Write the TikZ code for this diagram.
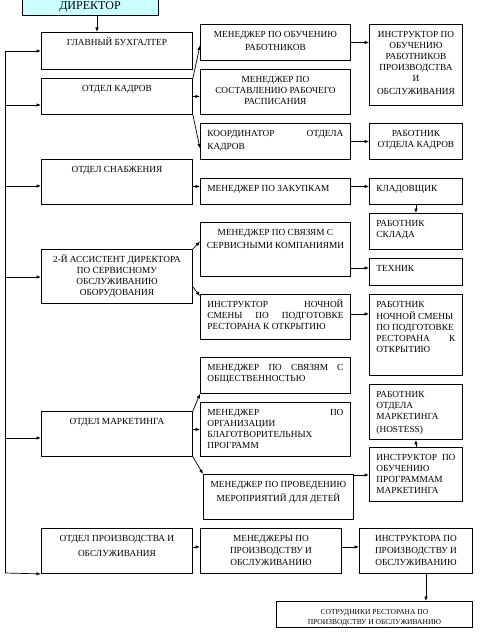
\documentclass[tikz,border=0pt]{standalone}
\usepackage{fontspec}
\setmainfont{Liberation Serif}
\usepackage{tikz}
\usetikzlibrary{arrows.meta,positioning}
\definecolor{dircyan}{RGB}{204,255,255}
\newcommand{\orgfont}{\fontsize{9.3}{11}\selectfont}
% box: optional alignment, name, x, y, width, height, text
\newcommand{\orgbox}[7][\centering]{%
  \node[box] (#2) at (#3,#4)
    {\parbox[t][#6pt][t]{\dimexpr#5pt-14pt\relax}{#1\vspace{5.5pt}\strut#7}};
}
\tikzset{
  box/.style={draw, line width=0.9pt, anchor=north west, inner xsep=7pt, inner ysep=0pt, font=\orgfont},
  arr/.style={-{Latex[length=4.5pt,width=3.5pt]}, line width=0.7pt},
  bus/.style={line width=0.7pt},
}
\begin{document}
\begin{tikzpicture}[x=1pt,y=-1pt]
  \useasboundingbox (0,0) rectangle (481,634);

  \node[box, anchor=center, fill=dircyan, minimum width=136, minimum height=17,
        inner sep=0pt, font=\fontsize{12}{12}\selectfont] (dir) at (90,6.5) {ДИРЕКТОР};

  % left column
  \orgbox{buh}{41}{32}{151}{37}{\vspace{1.5pt}ГЛАВНЫЙ БУХГАЛТЕР}
  \orgbox{kadry}{41}{78}{151}{36}{\vspace{1.5pt}ОТДЕЛ КАДРОВ}
  \orgbox{snab}{41}{159}{151}{45}{\vspace{1pt}ОТДЕЛ СНАБЖЕНИЯ}
  \orgbox{asst}{41}{249}{151}{54}{2-Й АССИСТЕНТ ДИРЕКТОРА\\ ПО СЕРВИСНОМУ\\ ОБСЛУЖИВАНИЮ\\ ОБОРУДОВАНИЯ}
  \orgbox{mark}{41}{411}{151}{45}{\vspace{1pt}ОТДЕЛ МАРКЕТИНГА}
  \orgbox{prod}{41}{528}{151}{45}{ОТДЕЛ ПРОИЗВОДСТВА И\\[4pt] ОБСЛУЖИВАНИЯ}

  % middle column
  \orgbox{obuch}{200}{24}{150}{36}{МЕНЕДЖЕР ПО ОБУЧЕНИЮ\\[2pt] РАБОТНИКОВ}
  \orgbox{rasp}{200}{69}{150}{45}{МЕНЕДЖЕР ПО\\ СОСТАВЛЕНИЮ РАБОЧЕГО\\ РАСПИСАНИЯ}
  \orgbox[\raggedright]{koord}{200}{123}{150}{36}{КООРДИНАТОР\hfill ОТДЕЛА\\[2pt] КАДРОВ}
  \orgbox[\raggedright]{zak}{200}{178}{150}{26}{МЕНЕДЖЕР ПО ЗАКУПКАМ}
  \orgbox{serv}{200}{222}{150}{54}{МЕНЕДЖЕР ПО СВЯЗЯМ С\\[2pt] \makebox[\linewidth]{СЕРВИСНЫМИ КОМПАНИЯМИ}}
  \orgbox[\raggedright]{noch}{200}{294}{150}{45}{ИНСТРУКТОР\hfill НОЧНОЙ\\ СМЕНЫ\hfill ПО\hfill ПОДГОТОВКЕ\\ РЕСТОРАНА К ОТКРЫТИЮ}
  \orgbox[\raggedright]{obsh}{200}{357}{150}{36}{МЕНЕДЖЕР\hfill ПО\hfill СВЯЗЯМ\hfill С\\ ОБЩЕСТВЕННОСТЬЮ}
  \orgbox[\raggedright]{blag}{200}{402}{150}{54}{МЕНЕДЖЕР\hfill ПО\\ ОРГАНИЗАЦИИ\\ БЛАГОТВОРИТЕЛЬНЫХ\\ ПРОГРАММ}
  \orgbox{det}{203}{474}{150}{45}{МЕНЕДЖЕР ПО ПРОВЕДЕНИЮ\\[2pt] МЕРОПРИЯТИЙ ДЛЯ ДЕТЕЙ}
  \orgbox{mp}{200}{528}{141}{45}{МЕНЕДЖЕРЫ ПО\\[1pt] ПРОИЗВОДСТВУ И\\[1pt] ОБСЛУЖИВАНИЮ}

  % right column
  \orgbox{instr}{369}{24}{93}{81}{ИНСТРУКТОР ПО\\ ОБУЧЕНИЮ\\ РАБОТНИКОВ\\ ПРОИЗВОДСТВА\\ И\\[2pt] ОБСЛУЖИВАНИЯ}
  \orgbox{rk}{369}{123}{93}{36}{РАБОТНИК\\ ОТДЕЛА КАДРОВ}
  \orgbox[\raggedright]{klad}{369}{178}{93}{26}{КЛАДОВЩИК}
  \orgbox[\raggedright]{sklad}{369}{213}{93}{36}{РАБОТНИК\\ СКЛАДА}
  \orgbox[\raggedright]{tech}{369}{258}{93}{27}{ТЕХНИК}
  \orgbox[\raggedright]{rn}{369}{294}{93}{81}{РАБОТНИК\\ НОЧНОЙ СМЕНЫ\\ ПО ПОДГОТОВКЕ\\ РЕСТОРАНА\hfill К\\ ОТКРЫТИЮ}
  \orgbox[\raggedright]{host}{369}{384}{93}{55}{РАБОТНИК\\ ОТДЕЛА\\ МАРКЕТИНГА\\[2pt] (HOSTESS)}
  \orgbox[\raggedright]{im}{369}{447}{93}{54}{ИНСТРУКТОР\hfill ПО\\ ОБУЧЕНИЮ\\ ПРОГРАММАМ\\ МАРКЕТИНГА}
  \orgbox{ip}{359}{528}{113}{45}{ИНСТРУКТОРА ПО\\[1pt] ПРОИЗВОДСТВУ И\\[1pt] ОБСЛУЖИВАНИЮ}
  \orgbox{sotr}{276}{601}{196}{26}{\fontsize{7.5}{10}\selectfont СОТРУДНИКИ РЕСТОРАНА ПО\\ ПРОИЗВОДСТВУ И ОБСЛУЖИВАНИЮ}

  % director and the left bus
  \draw[arr] ([xshift=7]dir.south) -- ([xshift=7]dir.south |- buh.north);
  \coordinate (bus-top) at (5,51);
  \coordinate (bus-bot) at (5,573);
  \draw[bus] (bus-top) -- (bus-bot);
  \foreach \dept/\y in {buh/51, kadry/105, snab/186, asst/277, mark/438}
  {
    \coordinate (bus-\dept) at (5,\y);
    \draw[arr] (bus-\dept) -- (bus-\dept -| \dept.west);
  }
  \draw[arr] (bus-bot) -- (prod.south west);

  % personnel
  \draw[arr] (kadry.north east) -- ([yshift=-3]obuch.west);
  \draw[arr] (kadry.east) -- (kadry.east -| rasp.west);
  \draw[arr] (kadry.south east) -- ([yshift=-7]koord.west);
  \draw[arr] (obuch.east) -- (obuch.east -| instr.west);
  \draw[arr] (koord.east) -- (koord.east -| rk.west);

  % supply
  \draw[arr] ([yshift=5]snab.east |- zak.west) -- ([yshift=5]zak.west);
  \draw[arr] ([yshift=5]zak.east) -- ([yshift=5]klad.west);
  \draw[arr] (klad.south) -- (sklad.north);

  % service
  \draw[arr] (asst.north east) -- ([yshift=8]serv.west);
  \draw[arr] ([yshift=17]asst.south east) -- ([yshift=-2]noch.north west);
  \draw[arr] ([yshift=4]tech.west -| serv.east) -- ([yshift=4]tech.west);
  \draw[arr] ([yshift=3]noch.east) -- ([yshift=3]noch.east -| rn.west);

  % marketing
  \draw[arr] (mark.north east) -- (obsh.south west);
  \draw[arr] (blag.west -| mark.east) -- (blag.west);
  \draw[arr] (mark.south east) -- (det.north west);
  \draw[arr] ([yshift=-1]det.north east) -- ([yshift=-1]det.north east -| im.west);
  \draw[arr] (im.north) -- (host.south);

  % production
  \draw[arr] ([yshift=4]prod.east) -- ([yshift=4]mp.west);
  \draw[arr] ([yshift=4]mp.east) -- ([yshift=4]ip.west);
  \draw[arr] ([xshift=10]ip.south) -- ([xshift=10]ip.south |- sotr.north);
\end{tikzpicture}
\end{document}
